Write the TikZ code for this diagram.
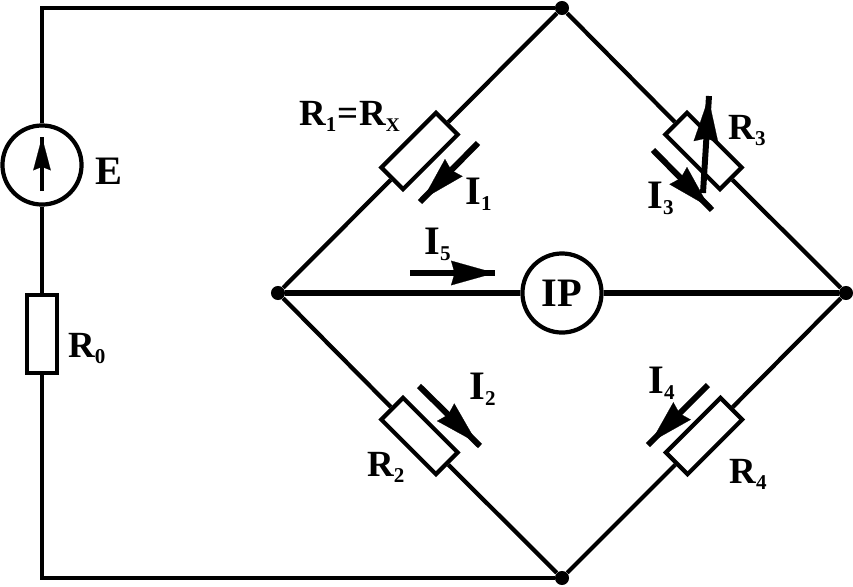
\documentclass[tikz,border=0pt]{standalone}
\usepackage{fontspec}
\setmainfont{Liberation Serif}
\usetikzlibrary{arrows.meta}

\newcommand{\idx}[1]{{\fontsize{12}{12}\selectfont\raisebox{-3.5pt}{#1}}}

\tikzset{
  wire/.style={line width=2.4pt},
  resistor/.style={draw, fill=white, line width=2.4pt, minimum width=44pt, minimum height=17.5pt, inner sep=0pt},
  meter/.style={circle, draw, fill=white, line width=2.4pt, inner sep=0pt, minimum size=45pt},
  junction/.style={circle, fill=black, inner sep=0pt, minimum size=8pt},
  lab/.style={font=\fontsize{21}{21}\selectfont\bfseries, inner sep=0pt, anchor=base west},
  labbig/.style={lab, font=\fontsize{23}{23}\selectfont\bfseries},
  curline/.style={line width=3.4pt},
  curhead/.style={line width=0.1pt, -{Stealth[inset=2pt, length=25pt, width=14pt]}},
  sourcehead/.style={line width=0.1pt, -{Stealth[inset=2pt, length=19pt, width=10pt]}}
}

\begin{document}
\begin{tikzpicture}[x=0.02cm, y=-0.02cm]
  \useasboundingbox (0,0) rectangle (853,586);

  \node[junction] (top) at (562,8) {};
  \node[junction] (bottom) at (562,578) {};
  \node[junction] (left) at (278,293) {};
  \node[junction] (right) at (846,293) {};
  \coordinate (cornerA) at (42,8);
  \coordinate (cornerB) at (42,578);

  \node[meter] (source) at (42,165) {};
  \node[resistor, rotate=90] (r0) at (42,334) {};
  \node[resistor, rotate=45] (r1) at (419.5,151) {};
  \node[resistor, rotate=-45] (r3) at (703.5,151) {};
  \node[resistor, rotate=-45] (r2) at (419.5,436) {};
  \node[resistor, rotate=45] (r4) at (704,436) {};
  \node[meter, font=\fontsize{23}{23}\selectfont\bfseries] (ip) at (562,293) {IP};

  \draw[wire] (top) -- (cornerA) -- (source);
  \draw[wire] (source) -- (r0);
  \draw[wire] (r0) -- (cornerB) -- (bottom);
  \draw[wire] (top) -- (r1); \draw[wire] (r1) -- (left);
  \draw[wire] (top) -- (r3); \draw[wire] (r3) -- (right);
  \draw[wire] (left) -- (r2); \draw[wire] (r2) -- (bottom);
  \draw[wire] (right) -- (r4); \draw[wire] (r4) -- (bottom);
  \draw[wire, line width=3.2pt] (left) -- (ip);
  \draw[wire, line width=3.2pt] (ip) -- (right);

  % current arrows
  \coordinate (e0) at (42,191); \coordinate (e1) at (42,137);
  \coordinate (i1a) at (478,143); \coordinate (i1b) at (420,202);
  \coordinate (i1c) at (423,199);
  \coordinate (i2a) at (419,386); \coordinate (i2b) at (480,446);
  \coordinate (i2c) at (477,443);
  \coordinate (i3a) at (653,150); \coordinate (i3b) at (712,210);
  \coordinate (i3c) at (709,207);
  \coordinate (i4a) at (708,385); \coordinate (i4b) at (648,445);
  \coordinate (i4c) at (651,442);
  \coordinate (i5a) at (410,273); \coordinate (i5b) at (495,273);
  \coordinate (i5c) at (495,273);
  \coordinate (v0) at (703,193); \coordinate (v1) at (709,96);
  \coordinate (v2) at (708.5,98);

  \draw[curline, line width=2.2pt] (e0) -- (e1);
  \draw[sourcehead] (e0) -- (e1);
  \draw[curline] (i1a) -- (i1b); \draw[curhead] (i1a) -- (i1c);
  \draw[curline] (i2a) -- (i2b); \draw[curhead] (i2a) -- (i2c);
  \draw[curline] (i3a) -- (i3b); \draw[curhead] (i3a) -- (i3c);
  \draw[curline] (i4a) -- (i4b); \draw[curhead] (i4a) -- (i4c);
  \draw[curline] (i5a) -- (i5b); \draw[curhead] (i5a) -- (i5c);
  \draw[curline] (v0) -- (v1); \draw[curhead] (v0) -- (v2);

  \node[labbig] (labE) at (95,184) {E};
  \node[lab] (labR0) at (68,357) {R\idx{0}};
  \node[lab] (labR1) at (299,125) {R\idx{1}\kern0.5pt=\kern0.5ptR\idx{\fontsize{11}{11}\selectfont X}};
  \node[lab] (labR2) at (367,476) {R\idx{2}};
  \node[lab] (labR3) at (728,139) {R\idx{3}};
  \node[lab] (labR4) at (729,483) {R\idx{4}};
  \node[labbig] (labI1) at (465,204) {I\idx{1}};
  \node[labbig] (labI2) at (469,399) {I\idx{2}};
  \node[labbig] (labI3) at (647,208) {I\idx{3}};
  \node[labbig] (labI4) at (648,393) {I\idx{4}};
  \node[labbig] (labI5) at (424,254) {I\idx{5}};
\end{tikzpicture}
\end{document}
